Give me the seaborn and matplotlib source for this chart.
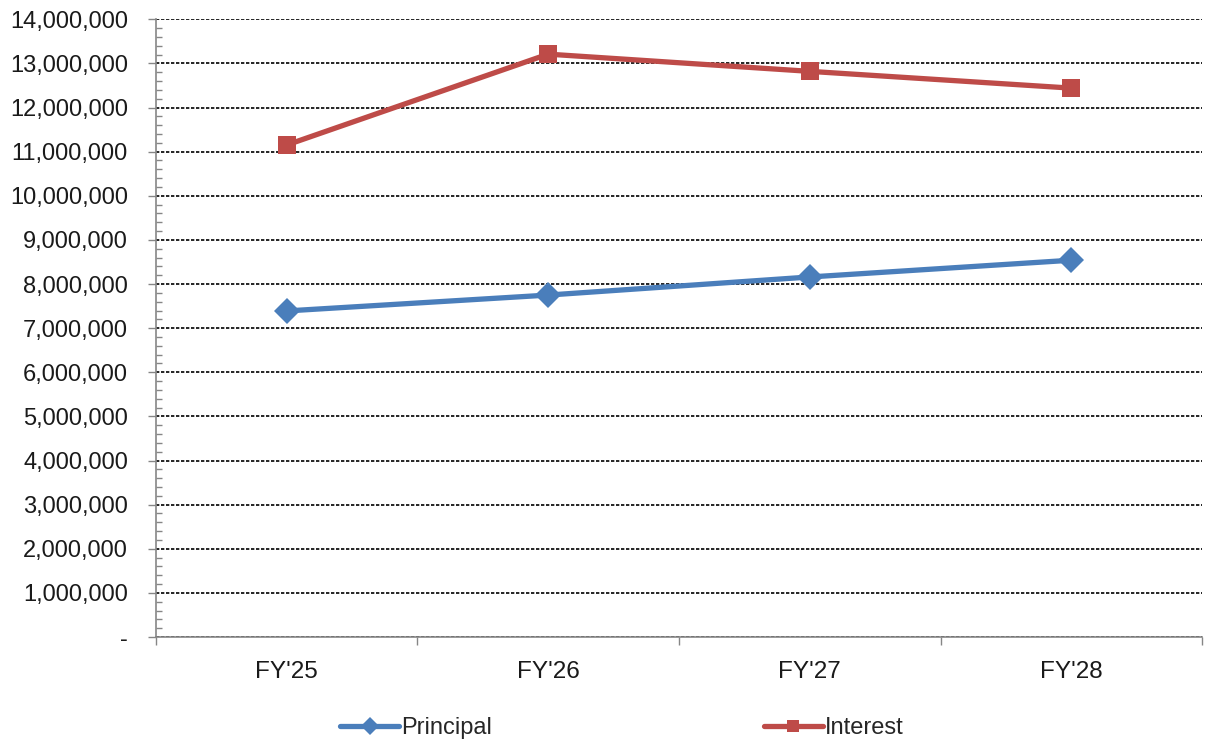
import pandas as pd
import matplotlib
matplotlib.use("Agg")
import matplotlib.pyplot as plt
import matplotlib.ticker as mticker
import seaborn as sns

# values
years = ["FY'25", "FY'26", "FY'27", "FY'28"]
principal = [7390000, 7750000, 8160000, 8540000]
interest = [11150000, 13210000, 12820000, 12440000]

df = pd.DataFrame({
    "year": years * 2,
    "value": principal + interest,
    "series": ["Principal"] * 4 + ["Interest"] * 4,
})

sns.set_style("white")
plt.rcParams["font.family"] = ["Liberation Sans", "DejaVu Sans"]

fig = plt.figure(figsize=(12.07, 7.42), dpi=100)
ax = fig.add_axes([0.129, 0.1415, 0.867, 0.8325])

sns.lineplot(
    data=df, x="year", y="value", hue="series", style="series",
    palette={"Principal": "#4A7EBB", "Interest": "#BE4B48"},
    markers={"Principal": "D", "Interest": "s"}, dashes=False,
    linewidth=3.8, markersize=13, markeredgewidth=0, ax=ax, zorder=3,
)

# axes limits / ticks
ax.set_xlim(-0.5, 3.5)
ax.set_ylim(0, 14000000)
ax.yaxis.set_major_locator(mticker.MultipleLocator(1000000))
ax.yaxis.set_minor_locator(mticker.MultipleLocator(200000))
ax.yaxis.set_major_formatter(mticker.FuncFormatter(lambda v, p: "-" if v == 0 else f"{v:,.0f}"))
ax.set_xticks(range(len(years)))
ax.set_xticks([-0.5, 0.5, 1.5, 2.5, 3.5], minor=True)

ax.tick_params(axis="y", which="major", direction="out", length=6, width=1, color="#868686",
               labelsize=17, labelcolor="#1a1a1a", pad=14, left=True)
ax.tick_params(axis="y", which="minor", direction="in", length=4, width=1, color="#868686", left=True)
ax.tick_params(axis="x", which="major", length=0, labelsize=17.5, labelcolor="#1a1a1a", pad=17)
ax.tick_params(axis="x", which="minor", direction="out", length=6, width=1, color="#868686", bottom=True)

ax.yaxis.grid(True, which="major", color="black", linestyle=(0, (2, 1)), linewidth=1.2)
ax.xaxis.grid(False)
ax.set_axisbelow(True)

for side in ["top", "right"]:
    ax.spines[side].set_visible(False)
for side in ["left", "bottom"]:
    ax.spines[side].set_color("#868686")
    ax.spines[side].set_linewidth(1.2)

ax.set_xlabel("")
ax.set_ylabel("")

handles, labels = ax.get_legend_handles_labels()
ax.legend_.remove()
fig.legend(handles, labels, loc="center", bbox_to_anchor=(622 / 1207, 1 - 728 / 742),
           ncol=2, frameon=False, fontsize=17, handlelength=2.5, handletextpad=0.1,
           columnspacing=11.5, markerscale=0.7)

fig.savefig("out.png", dpi=100)
